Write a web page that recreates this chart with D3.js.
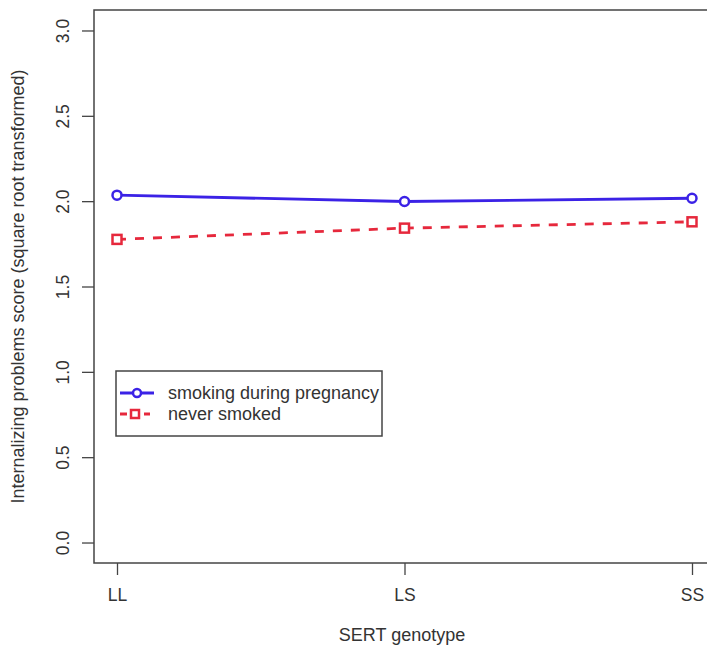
<!DOCTYPE html>
<html>
<head>
<meta charset="utf-8">
<script src="https://cdn.jsdelivr.net/npm/d3@7"></script>
<style>
  body { margin: 0; background: #fff; }
  svg { display: block; font-family: "Liberation Sans", Arial, sans-serif; }
</style>
</head>
<body>
<div id="chart"></div>
<script>
// genotype categories and group means
const genotypes = ["LL", "LS", "SS"];
const smokingDuring = [2.035, 1.998, 2.017];
const neverSmoked = [1.776, 1.842, 1.879];
const yTicks = [0, 0.5, 1, 1.5, 2, 2.5, 3];
const seriesNames = ["smoking during pregnancy", "never smoked"];

const width = 707, height = 647;
const blue = "#3b22e6", red = "#e6283c", ink = "#333";

const svg = d3.select("#chart").append("svg")
  .attr("width", width)
  .attr("height", height);

// plot region (R style, 4% padding on each side of the data range)
const box = { left: 94, right: 715, top: 10, bottom: 563 };

const x = d3.scaleLinear()
  .domain([1 - 0.08, 3 + 0.08])
  .range([box.left, box.right]);

const y = d3.scaleLinear()
  .domain([-0.12, 3.12])
  .range([box.bottom, box.top]);

// frame
svg.append("rect")
  .attr("x", box.left).attr("y", box.top)
  .attr("width", box.right - box.left).attr("height", box.bottom - box.top)
  .attr("fill", "none").attr("stroke", "#444").attr("stroke-width", 1.5);

// y axis, labels rotated like R's default
const yAxis = svg.append("g")
  .attr("transform", `translate(${box.left},0)`)
  .call(d3.axisLeft(y).tickValues(yTicks).tickSize(12).tickFormat(d3.format(".1f")));
yAxis.select(".domain").remove();
yAxis.selectAll("line").attr("stroke", "#444").attr("stroke-width", 1.3);
yAxis.selectAll("text")
  .attr("font-size", 17.5).attr("fill", ink)
  .attr("x", -25).attr("y", 0).attr("dy", null)
  .attr("transform", "rotate(-90, -25, 0)")
  .attr("text-anchor", "middle");

// x axis
const xAxis = svg.append("g")
  .attr("transform", `translate(0,${box.bottom})`)
  .call(d3.axisBottom(x).tickValues([1, 2, 3]).tickSize(12).tickPadding(14)
    .tickFormat((d, i) => genotypes[i]));
xAxis.select(".domain").remove();
xAxis.selectAll("line").attr("stroke", "#444").attr("stroke-width", 1.3);
xAxis.selectAll("text").attr("font-size", 17.5).attr("fill", ink);

// axis titles
svg.append("text")
  .attr("x", 402).attr("y", 641)
  .attr("text-anchor", "middle").attr("font-size", 18).attr("fill", ink)
  .text("SERT genotype");

svg.append("text")
  .attr("transform", `translate(24,${(box.top + box.bottom) / 2}) rotate(-90)`)
  .attr("text-anchor", "middle").attr("font-size", 18).attr("fill", ink)
  .text("Internalizing problems score (square root transformed)");

const line = d3.line()
  .x((d, i) => x(i + 1))
  .y(d => y(d));

// smoking during pregnancy
svg.append("path")
  .datum(smokingDuring)
  .attr("d", line)
  .attr("fill", "none").attr("stroke", blue).attr("stroke-width", 2.8);
svg.selectAll(".pt-smoke")
  .data(smokingDuring)
  .join("circle")
  .attr("class", "pt-smoke")
  .attr("cx", (d, i) => x(i + 1)).attr("cy", d => y(d))
  .attr("r", 4.5)
  .attr("fill", "#fff").attr("stroke", blue).attr("stroke-width", 2.5);

// never smoked
svg.append("path")
  .datum(neverSmoked)
  .attr("d", line)
  .attr("fill", "none").attr("stroke", red).attr("stroke-width", 2.8)
  .attr("stroke-dasharray", "9,9");
svg.selectAll(".pt-never")
  .data(neverSmoked)
  .join("rect")
  .attr("class", "pt-never")
  .attr("x", (d, i) => x(i + 1) - 4.5).attr("y", d => y(d) - 4.5)
  .attr("width", 9).attr("height", 9)
  .attr("fill", "#fff").attr("stroke", red).attr("stroke-width", 2.5);

// legend
const legend = svg.append("g");
legend.append("rect")
  .attr("x", 116).attr("y", 371).attr("width", 266).attr("height", 65)
  .attr("fill", "#fff").attr("stroke", "#444").attr("stroke-width", 1.5);

const legendRows = [
  { name: seriesNames[0], color: blue, dash: null, shape: "circle", yy: 393 },
  { name: seriesNames[1], color: red, dash: "7,5", shape: "square", yy: 414 }
];
legendRows.forEach(r => {
  legend.append("line")
    .attr("x1", 120).attr("x2", r.shape === "circle" ? 154 : 150)
    .attr("y1", r.yy).attr("y2", r.yy)
    .attr("stroke", r.color).attr("stroke-width", 2.8)
    .attr("stroke-dasharray", r.dash);
  if (r.shape === "circle") {
    legend.append("circle")
      .attr("cx", 137).attr("cy", r.yy).attr("r", 4)
      .attr("fill", "#fff").attr("stroke", r.color).attr("stroke-width", 2.5);
  } else {
    legend.append("rect")
      .attr("x", 131).attr("y", r.yy - 4).attr("width", 8).attr("height", 8)
      .attr("fill", "#fff").attr("stroke", r.color).attr("stroke-width", 2.5);
  }
  legend.append("text")
    .attr("x", 168).attr("y", r.yy + 6)
    .attr("font-size", 18).attr("fill", ink)
    .text(r.name);
});
</script>
</body>
</html>
